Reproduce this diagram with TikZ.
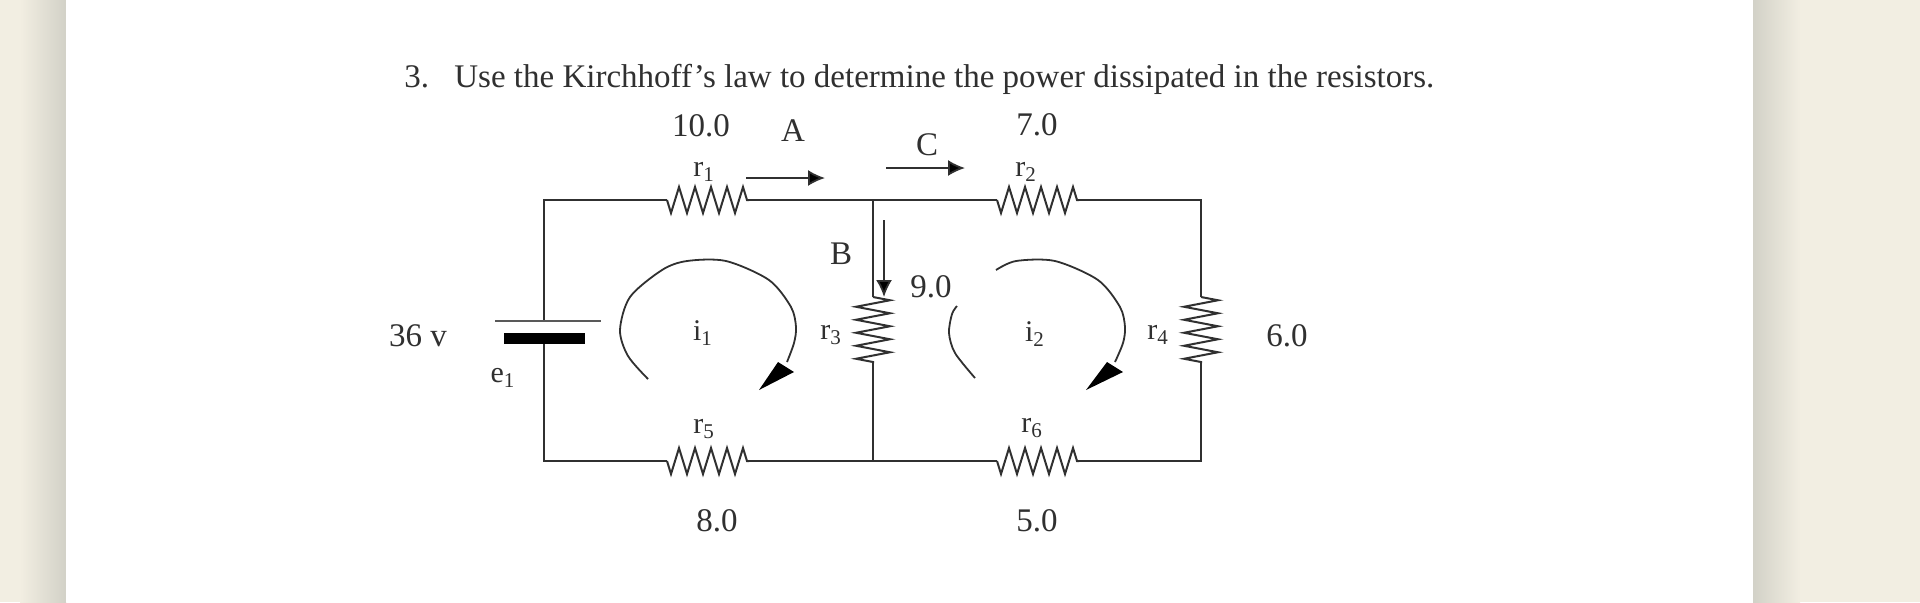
\documentclass[tikz,border=0pt]{standalone}
\usepackage{fontspec}
\setmainfont{Liberation Serif}
\usetikzlibrary{arrows.meta,decorations.pathmorphing}

\definecolor{paper}{HTML}{F2EEE2}
\definecolor{edgeshade}{HTML}{D2D1C7}
\definecolor{ink}{HTML}{303030}

\tikzset{
    wire/.style={draw=ink,line width=1.1pt},
    rhoriz/.style={draw=ink,line width=1pt,decorate,decoration={zigzag,segment length=8pt,amplitude=-6.5pt}},
    rvert/.style={draw=ink,line width=1pt,decorate,decoration={zigzag,segment length=6.5pt,amplitude=8.5pt}},
    current/.style={draw=ink,line width=0.9pt,-{Latex[length=8.5pt,width=8pt,fill=black]}},
    loopline/.style={draw=ink,line width=0.9pt},
    value/.style={text=ink,font=\fontsize{16.5}{18}\selectfont,inner sep=0pt},
    small/.style={text=ink,font=\fontsize{15}{17}\selectfont,inner sep=0pt},
}

\begin{document}
\begin{tikzpicture}[x=0.5pt,y=-0.5pt]

\useasboundingbox (0,0) rectangle (1920,602);

% page and its shadow
\fill [paper] (0,0) rectangle (1920,602);
\shade [left color=paper,right color=edgeshade] (20,0) rectangle (66,602);
\shade [left color=edgeshade,right color=paper] (1753,0) rectangle (1800,602);
\fill [white] (66,0) rectangle (1753,602);

\node (num) at (404,87) [anchor=base west,value] {3.};
\node (question) at (454,87) [anchor=base west,value] {Use the Kirchhoff’s law to determine the power dissipated in the resistors.};

% corners and ends of the resistors
\node (tl) [coordinate] at (544,200) {};
\node (tm) [coordinate] at (873,200) {};
\node (tr) [coordinate] at (1201,200) {};
\node (bl) [coordinate] at (544,461) {};
\node (bm) [coordinate] at (873,461) {};
\node (br) [coordinate] at (1201,461) {};
\node (r1a) [coordinate] at (667,200) {};
\node (r1b) [coordinate] at (749,200) {};
\node (r2a) [coordinate] at (997,200) {};
\node (r2b) [coordinate] at (1079,200) {};
\node (r5a) [coordinate] at (667,461) {};
\node (r5b) [coordinate] at (749,461) {};
\node (r6a) [coordinate] at (997,461) {};
\node (r6b) [coordinate] at (1079,461) {};
\node (r3a) [coordinate] at (873,297) {};
\node (r3b) [coordinate] at (873,363) {};
\node (r4a) [coordinate] at (1201,297) {};
\node (r4b) [coordinate] at (1201,363) {};

% battery
\node (platetop) [coordinate] at (544,321) {};
\node (platelow) [coordinate] at (544,338) {};
\node (longa) [coordinate] at (495,321) {};
\node (longb) [coordinate] at (601,321) {};
\node (thicka) [coordinate] at (504,338) {};
\node (thickb) [coordinate] at (585,338) {};

\draw [wire] (platetop) -- (tl) -- (r1a);
\draw [wire] (r1b) -- (tm) -- (r2a);
\draw [wire] (r2b) -- (tr) -- (r4a);
\draw [wire] (r4b) -- (br) -- (r6b);
\draw [wire] (r6a) -- (bm) -- (r5b);
\draw [wire] (r5a) -- (bl) -- (platelow);
\draw [wire] (tm) -- (r3a);
\draw [wire] (r3b) -- (bm);

\draw [rhoriz] (r1a) -- (r1b);
\draw [rhoriz] (r2a) -- (r2b);
\draw [rhoriz] (r5a) -- (r5b);
\draw [rhoriz] (r6a) -- (r6b);
\draw [rvert] (r3a) -- (r3b);
\draw [rvert] (r4a) -- (r4b);

\draw [draw=ink!80,line width=0.8pt] (longa) -- (longb);
\draw [draw=black,line width=5.5pt] (thicka) -- (thickb);

% currents
\node (aa) [coordinate] at (746,178) {};
\node (ab) [coordinate] at (825,178) {};
\node (ca) [coordinate] at (886,168) {};
\node (cb) [coordinate] at (965,168) {};
\node (ba) [coordinate] at (884,220) {};
\node (bb) [coordinate] at (884,297) {};
\draw [current] (aa) -- (ab);
\draw [current] (ca) -- (cb);
\draw [current] (ba) -- (bb);

% loops
\draw [loopline] plot [smooth] coordinates {(648,379) (628,356) (620,330) (630,297) (662,270) (687,261) (726,261) (769,280) (791,307) (796,327) (794,343) (787,362)};
\draw [loopline] plot [smooth] coordinates {(975,378) (955,353) (949,333) (952,314) (957,306)};
\draw [loopline] plot [smooth] coordinates {(996,270) (1016,261) (1055,261) (1098,280) (1120,307) (1125,327) (1123,343) (1115,362)};
\fill [black] (778,362) -- (794,372) -- (759,390) -- cycle;
\fill [black] (1107,362) -- (1123,372) -- (1086,390) -- cycle;

\node (ten) at (701,126) [value] {10.0};
\node (seven) at (1037,125) [value] {7.0};
\node (nine) at (931,287) [value] {9.0};
\node (six) at (1287,336) [value] {6.0};
\node (eight) at (717,521) [value] {8.0};
\node (five) at (1037,521) [value] {5.0};
\node (volt) at (418,336) [value] {36 v};
\node (la) at (793,131) [value] {A};
\node (lb) at (841,254) [value] {B};
\node (lc) at (927,145) [value] {C};
\node (lr1) at (704,172) [small] {r\textsubscript{1}};
\node (lr2) at (1026,172) [small] {r\textsubscript{2}};
\node (lr3) at (831,335) [small] {r\textsubscript{3}};
\node (lr4) at (1158,335) [small] {r\textsubscript{4}};
\node (lr5) at (704,429) [small] {r\textsubscript{5}};
\node (lr6) at (1032,428) [small] {r\textsubscript{6}};
\node (le1) at (503,378) [small] {e\textsubscript{1}};
\node (li1) at (703,333) [small] {i\textsubscript{1}};
\node (li2) at (1035,334) [small] {i\textsubscript{2}};

\end{tikzpicture}
\end{document}
